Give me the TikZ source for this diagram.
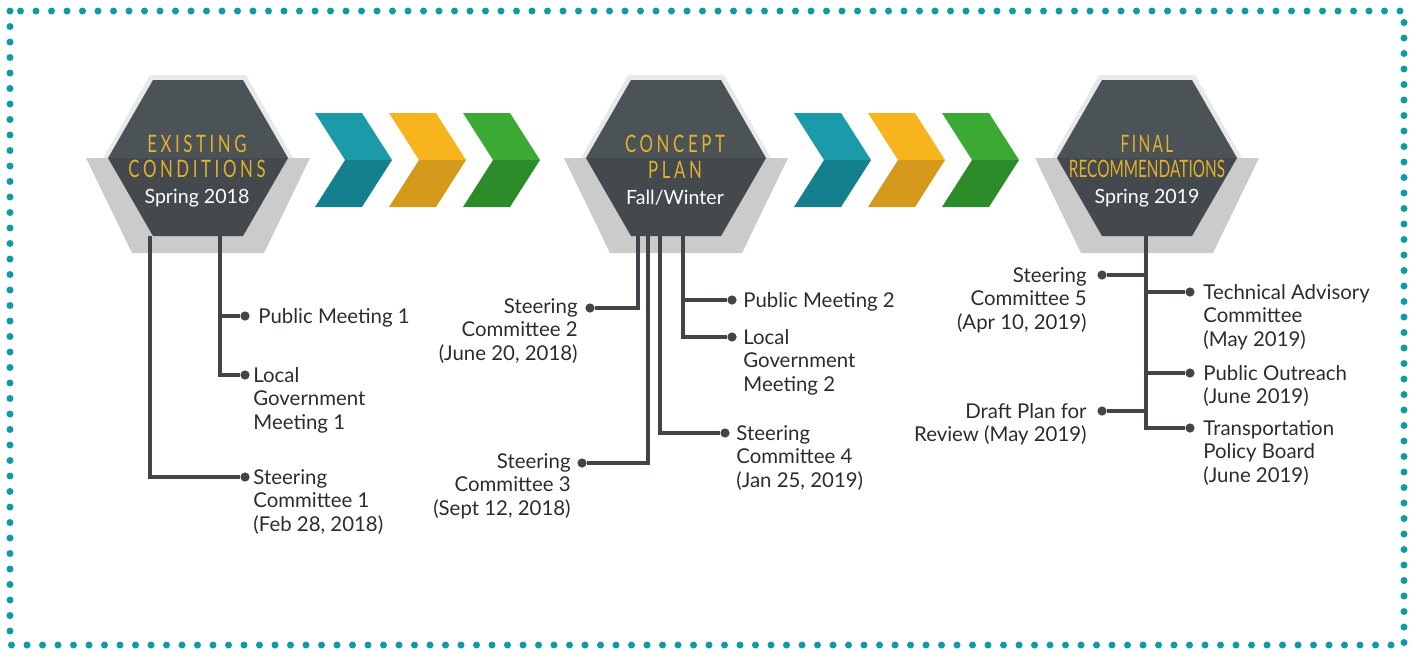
\documentclass[tikz,border=0pt]{standalone}
\usepackage{fontspec}
\setmainfont{Lato}
\newfontfamily\capsfont[FakeStretch=0.7,LetterSpace=15]{Lato}
\newfontfamily\capstight[FakeStretch=0.64,LetterSpace=0]{Lato}
\usepackage{tikz}
\usetikzlibrary{calc,positioning}
\definecolor{ink}{HTML}{2A2C2E}
\definecolor{wire}{HTML}{3F4548}
\definecolor{frame}{HTML}{0E9BA6}
\definecolor{gold}{HTML}{E2B12C}
\definecolor{hextop}{HTML}{4B5356}
\definecolor{hexbot}{HTML}{43494C}
\definecolor{hexrim}{HTML}{E8E9E9}
\definecolor{tray}{HTML}{CBCBCB}
\definecolor{chevTA}{HTML}{1B9AAA}
\definecolor{chevTB}{HTML}{147F8D}
\definecolor{chevYA}{HTML}{F7B41D}
\definecolor{chevYB}{HTML}{D59A1B}
\definecolor{chevGA}{HTML}{3BAA35}
\definecolor{chevGB}{HTML}{2D8C2A}
\newcommand{\stagecap}[2][\capsfont]{{\color{gold}#1\fontsize{12}{12.8}\selectfont #2}}

\begin{document}
\begin{tikzpicture}[x=0.5pt,y=-0.5pt,
  wire/.style={draw=wire,line width=1.7pt},
  dot/.style={circle,fill=wire,inner sep=0pt,minimum size=4.6pt},
  lbl/.style={font=\fontsize{10.2}{11.7}\selectfont,text=ink,inner sep=0pt,align=left,anchor=north west},
  lblr/.style={lbl,align=right,anchor=north east},
  stage/.style={align=center,text=white,inner sep=0pt,font=\fontsize{9.8}{12.9}\selectfont}]
\useasboundingbox (0,0) rectangle (1416,650);
\draw[frame,line width=3.5pt,line cap=round,dash pattern=on 0pt off 7.75pt] (10,11) rectangle (1404,645);

% hexagons with their grey trays
\foreach \cx in {198,676,1147}{
  \fill[hexrim] (\cx-48,75)--(\cx+48,75)--(\cx+95,158)--(\cx+48,242)--(\cx-48,242)--(\cx-95,158)--cycle;
  \fill[tray] (\cx-112,158)--(\cx+112,158)--(\cx+66,253)--(\cx-66,253)--cycle;
  \fill[hextop] (\cx-45,80)--(\cx+45,80)--(\cx+90,158)--(\cx-90,158)--cycle;
  \fill[hexbot] (\cx-90,158)--(\cx+90,158)--(\cx+45,236)--(\cx-45,236)--cycle;
}
% chevrons
\foreach \x/\c in {315/T,389/Y,463/G,794/T,868/Y,942/G}{
  \fill[chev\c A] (\x,113)--(\x+47,113)--(\x+77,160)--(\x+30,160)--cycle;
  \fill[chev\c B] (\x+30,160)--(\x+77,160)--(\x+47,207)--(\x,207)--cycle;
}

\node[stage] (stageA) at (197,171) {\stagecap{EXISTING}\\\stagecap{CONDITIONS}\\Spring 2018};
\node[stage] (stageB) at (675,170) {\stagecap{CONCEPT}\\\stagecap{PLAN}\\Fall/Winter};
\node[stage] (stageC) at (1147,171) {\stagecap[\capstight]{\addfontfeature{LetterSpace=10}FINAL}\\\stagecap[\capstight]{RECOMMENDATIONS}\\Spring 2019};

% existing conditions
\coordinate (baseA) at (198,236);
\coordinate (spA1) at ($(baseA)+(-48,0)$);
\coordinate (spA2) at ($(baseA)+(22,0)$);
\node[dot] (pmA) at (245,316) {};
\node[dot] (lgA) at (245,375) {};
\node[dot] (scA) at (245,477) {};
\draw[wire] (spA1) |- (scA);
\draw[wire] (spA2) |- (lgA);
\draw[wire] (pmA) -- (pmA -| spA2);
\node[lbl] (pmAt) at (258,308) {Public Meeting 1};
\node[lbl] (lgAt) at (253,367) {Local\\Government\\Meeting 1};
\node[lbl] (scAt) at (253,469) {Steering\\Committee 1\\(Feb 28, 2018)};

% concept plan
\coordinate (baseB) at (676,236);
\coordinate (spB1) at ($(baseB)+(-38,0)$);
\coordinate (spB2) at ($(baseB)+(-28,0)$);
\coordinate (spB3) at ($(baseB)+(-16,0)$);
\coordinate (spB4) at ($(baseB)+(7,0)$);
\node[dot] (scB2) at (590,308) {};
\node[dot] (scB3) at (582,463) {};
\node[dot] (scB4) at (725,433) {};
\node[dot] (pmB) at (732,300) {};
\node[dot] (lgB) at (732,337) {};
\draw[wire] (spB1) |- (scB2);
\draw[wire] (spB2) |- (scB3);
\draw[wire] (spB3) |- (scB4);
\draw[wire] (spB4) |- (lgB);
\draw[wire] (pmB) -- (pmB -| spB4);
\node[lblr] (scB2t) at (578,298) {Steering\\Committee 2\\(June 20, 2018)};
\node[lblr] (scB3t) at (571,453) {Steering\\Committee 3\\(Sept 12, 2018)};
\node[lbl] (pmBt) at (743,292) {Public Meeting 2};
\node[lbl] (lgBt) at (743,329) {Local\\Government\\Meeting 2};
\node[lbl] (scB4t) at (736,425) {Steering\\Committee 4\\(Jan 25, 2019)};

% final recommendations
\coordinate (baseC) at (1146,236);
\node[dot] (scC) at (1102,275) {};
\node[dot] (tacC) at (1190,292) {};
\node[dot] (poC) at (1190,373) {};
\node[dot] (dpC) at (1102,411) {};
\node[dot] (tpC) at (1190,428) {};
\draw[wire] (baseC) |- (tpC);
\draw[wire] (scC) -- (scC -| baseC);
\draw[wire] (tacC) -- (tacC -| baseC);
\draw[wire] (poC) -- (poC -| baseC);
\draw[wire] (dpC) -- (dpC -| baseC);
\node[lblr] (scCt) at (1087,267) {Steering\\Committee 5\\(Apr 10, 2019)};
\node[lbl] (tacCt) at (1203,284) {Technical Advisory\\Committee\\(May 2019)};
\node[lbl] (poCt) at (1203,365) {Public Outreach\\(June 2019)};
\node[lblr] (dpCt) at (1087,403) {Draft Plan for\\Review (May 2019)};
\node[lbl] (tpCt) at (1203,420) {Transportation\\Policy Board\\(June 2019)};
\end{tikzpicture}
\end{document}
